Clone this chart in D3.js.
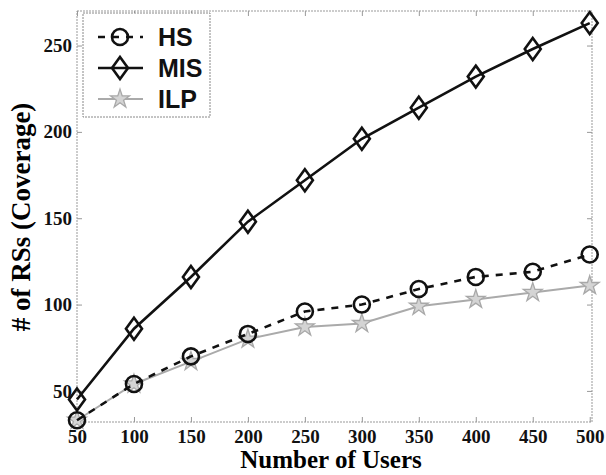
<!DOCTYPE html>
<html>
<head>
<meta charset="utf-8">
<script src="https://cdn.jsdelivr.net/npm/d3@7"></script>
<style>
  body { margin: 0; background: #fff; }
  .tick text { font-family: "Liberation Serif", "Times New Roman", serif; font-weight: bold; font-size: 19px; fill: #111; }
</style>
</head>
<body>
<script>
// data
var users = [50, 100, 150, 200, 250, 300, 350, 400, 450, 500];
var hs  = [33, 54, 70, 83, 96, 100, 109, 116, 119, 129];
var mis = [45, 86, 116, 148, 172, 196, 214, 232, 248, 263];
var ilp = [33, 54, 67, 80, 87, 89, 99, 103, 107, 111];
var yTicks = [50, 100, 150, 200, 250];

var margin = {top: 11, right: 14, bottom: 53, left: 77},
    width = 606 - margin.left - margin.right,
    height = 475 - margin.top - margin.bottom;

var svg = d3.select("body").append("svg")
    .attr("width", 606)
    .attr("height", 475);

var g = svg.append("g")
    .attr("transform", "translate(" + margin.left + "," + margin.top + ")");

var x = d3.scaleLinear().domain([50, 502]).range([0, width]);
var y = d3.scaleLinear().domain([32, 270]).range([height, 0]);

// frame
g.append("rect")
    .attr("width", width).attr("height", height)
    .attr("fill", "none").attr("stroke", "#999").attr("stroke-width", 1)
    .attr("stroke-dasharray", "2,1");

var xAxis = d3.axisBottom(x).tickValues(users).tickSize(-5).tickPadding(8);
var yAxis = d3.axisLeft(y).tickValues(yTicks).tickSize(-5).tickPadding(5);

function greyTicks(s) { s.select(".domain").remove(); s.selectAll("line").attr("stroke", "#999"); }

g.append("g").attr("transform", "translate(0," + height + ")").call(xAxis).call(greyTicks);
g.append("g").call(yAxis).call(greyTicks);
// ticks on top and right
g.append("g").call(d3.axisTop(x).tickValues(users).tickSize(-5).tickFormat("")).call(greyTicks);
g.append("g").attr("transform", "translate(" + width + ",0)")
  .call(d3.axisRight(y).tickValues(yTicks).tickSize(-5).tickFormat("")).call(greyTicks);

// axis titles
svg.append("text")
    .attr("x", 331).attr("y", 468)
    .attr("text-anchor", "middle")
    .style("font-family", "'Liberation Serif', serif")
    .style("font-weight", "bold").style("font-size", "25px")
    .text("Number of Users");

svg.append("text")
    .attr("transform", "translate(30,217) rotate(-90)")
    .attr("text-anchor", "middle")
    .style("font-family", "'Liberation Serif', serif")
    .style("font-weight", "bold").style("font-size", "27px")
    .text("# of RSs (Coverage)");

var series = [
  {name: "HS",  values: hs,  color: "#111", dash: "7,7", width: 2.6, marker: "circle"},
  {name: "MIS", values: mis, color: "#111", dash: null,  width: 2.6, marker: "diamond"},
  {name: "ILP", values: ilp, color: "#aaa", dash: null,  width: 2,   marker: "star"}
];

var line = d3.line()
    .x(function(d) { return x(d.u); })
    .y(function(d) { return y(d.v); });

function drawMarker(sel, type, color) {
  if (type === "circle") {
    sel.append("circle").attr("r", 8)
      .attr("fill", "none").attr("stroke", color).attr("stroke-width", 2.6);
  } else if (type === "diamond") {
    sel.append("path").attr("d", "M0,-11L8,0L0,11L-8,0Z")
      .attr("fill", "none").attr("stroke", color).attr("stroke-width", 2.6);
  } else {
    sel.append("path").attr("d", d3.symbol().type(d3.symbolStar).size(110)())
      .attr("fill", "#d4d4d4").attr("stroke", "#a8a8a8").attr("stroke-width", 1.3);
  }
}

// draw ILP first so black lines sit on top
[series[2], series[0], series[1]].forEach(function(s) {
  var pts = users.map(function(u, i) { return {u: u, v: s.values[i]}; });
  g.append("path")
    .datum(pts)
    .attr("d", line)
    .attr("fill", "none")
    .attr("stroke", s.color)
    .attr("stroke-width", s.width)
    .attr("stroke-dasharray", s.dash);
  g.selectAll(".m-" + s.name)
    .data(pts).enter()
    .append("g")
    .attr("class", "m-" + s.name)
    .attr("transform", function(d) { return "translate(" + x(d.u) + "," + y(d.v) + ")"; })
    .each(function() { drawMarker(d3.select(this), s.marker, s.color); });
});

// legend
var legend = svg.append("g").attr("transform", "translate(83,13)");
legend.append("rect")
    .attr("width", 127).attr("height", 104)
    .attr("fill", "#fff").attr("stroke", "#888").attr("stroke-width", 1)
    .attr("stroke-dasharray", "2,1");

series.forEach(function(s, i) {
  var ly = 24 + 31 * i;
  legend.append("line")
    .attr("x1", 15).attr("x2", 60).attr("y1", ly).attr("y2", ly)
    .attr("stroke", s.color).attr("stroke-width", s.width)
    .attr("stroke-dasharray", s.dash);
  var m = legend.append("g").attr("transform", "translate(37," + ly + ")");
  drawMarker(m, s.marker, s.color);
  legend.append("text")
    .attr("x", 75).attr("y", ly).attr("dy", "0.36em")
    .style("font-family", "'Liberation Sans', Arial, sans-serif")
    .style("font-weight", "bold").style("font-size", "25px")
    .attr("fill", "#111")
    .text(s.name);
});
</script>
</body>
</html>
